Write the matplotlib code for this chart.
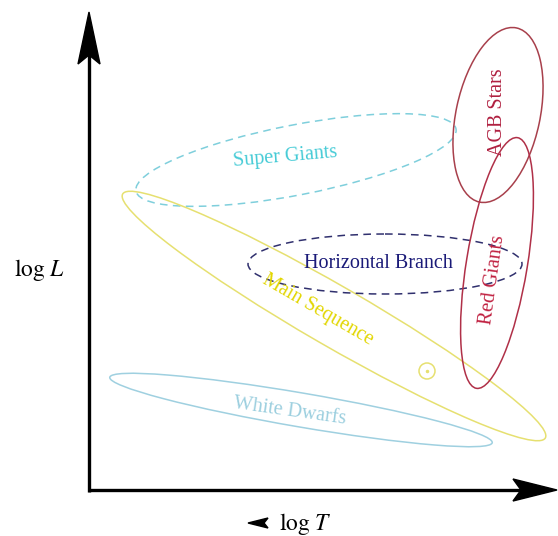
import matplotlib
matplotlib.use("Agg")
import matplotlib.pyplot as plt
from matplotlib.patches import Ellipse, Circle, Polygon

plt.rcParams['font.family'] = ['Liberation Serif', 'DejaVu Serif']
plt.rcParams['mathtext.fontset'] = 'stix'

# ==== 区域数据 (像素坐标: 中心x, 中心y, 长轴, 短轴, 角度) ====
regions = ["Super Giants", "Main Sequence", "White Dwarfs",
           "Horizontal Branch", "AGB Stars", "Red Giants"]
centers = [(296, 160), (334, 316), (301, 410), (385, 264), (498, 115), (497, 263)]
widths = [326, 488, 388, 274, 178, 254]
heights = [70, 60, 34, 60, 84, 61]
angles = [-11, 30, 9.7, 0, -78, -80.7]
edge_colors = ["#7fcfdc", "#e6e070", "#9fd0e0", "#30306e", "#a8404c", "#b03048"]
line_styles = [(0, (5, 3.5)), "-", "-", (0, (5, 3.5)), "-", "-"]

label_pos = [(285, 157), (318, 310), (290, 411), (378, 264), (498, 112), (493, 280)]
label_rot = [5, -30, -8, 0, 90, 82]
label_colors = ["#45cbd6", "#e2d600", "#9ccfdf", "#1a1a78", "#b02040", "#c02040"]

sun_xy = (427, 371)

fig = plt.figure(figsize=(5.58, 5.36), dpi=100)
ax = fig.add_axes([0, 0, 1, 1])
ax.set_xlim(0, 558)
ax.set_ylim(536, 0)
ax.axis("off")

for c, w, h, a, ec, ls in zip(centers, widths, heights, angles, edge_colors, line_styles):
    ax.add_patch(Ellipse(c, w, h, angle=a, fill=False, edgecolor=ec,
                         linestyle=ls, linewidth=1.1))

for name, (x, y), rot, col in zip(regions, label_pos, label_rot, label_colors):
    ax.text(x, y, name, rotation=rot, color=col, fontsize=14.5,
            ha="center", va="center", rotation_mode="anchor")

# 太阳符号
ax.add_patch(Circle(sun_xy, 8, fill=False, edgecolor="#e6e070", linewidth=1.1))
ax.plot(*sun_xy, marker="o", markersize=1.5, color="#e6e070")

# ==== 坐标轴箭头 ====
ox, oy = 89, 490
ax.plot([ox, ox], [oy + 1.5, 55], color="black", linewidth=2.4, solid_capstyle="butt")
ax.plot([ox - 1.2, 520], [oy, oy], color="black", linewidth=2.4, solid_capstyle="butt")
ax.add_patch(Polygon([(ox, 12), (ox + 11, 64), (ox, 55), (ox - 11, 64)],
                     closed=True, color="black"))
ax.add_patch(Polygon([(557, oy), (513, oy + 11), (521, oy), (513, oy - 11)],
                     closed=True, color="black"))

ax.text(40, 270, r"$\log\,L$", fontsize=17, ha="center", va="center")
ax.text(305, 524, r"$\log\,T$", fontsize=17, ha="center", va="center")
ax.add_patch(Polygon([(248, 523), (268, 518), (264, 523), (268, 528)],
                     closed=True, color="black"))

fig.savefig("out.png", dpi=100)
